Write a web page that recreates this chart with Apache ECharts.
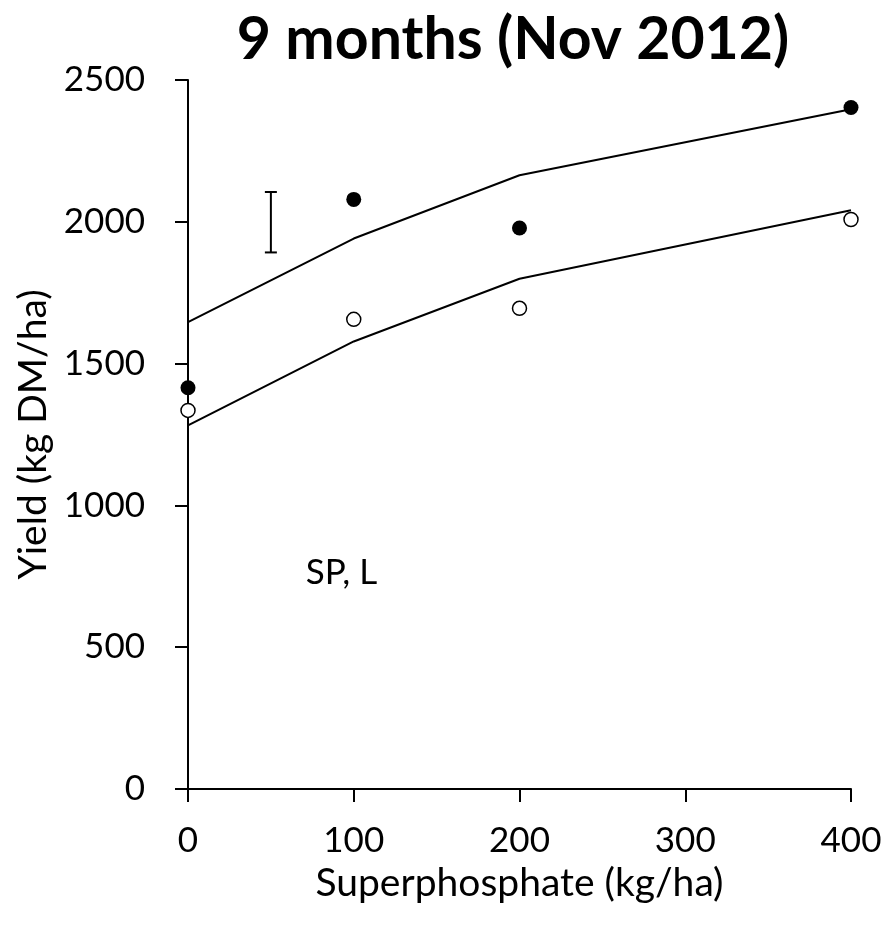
<!DOCTYPE html>
<html>
<head>
<meta charset="utf-8">
<script src="https://cdn.jsdelivr.net/npm/echarts@6/dist/echarts.min.js"></script>
<style>
  html, body { margin: 0; padding: 0; background: #fff; }
  #main { width: 887px; height: 925px; }
</style>
</head>
<body>
<div id="main"></div>
<script>
const rates = [0, 100, 200, 400]
const filledPts = [1415, 2079, 1978, 2403]
const openPts = [1335, 1656, 1695, 2008]
const upperFit = [1646, 1941, 2164, 2397]
const lowerFit = [1282, 1578, 1799, 2041]
const errBar = [50, 1892, 2105]
const note = [71, 763, 'SP, L']
const xTicks = [0, 100, 200, 300, 400]
const yTicks = [0, 500, 1000, 1500, 2000, 2500]

const font = 'Lato, "Open Sans", sans-serif'
const pairs = (xs, ys) => xs.map((x, i) => [x, ys[i]])

const chart = echarts.init(document.getElementById('main'))
const option = {
  animation: false,
  title: {
    text: '9 months (Nov 2012)',
    left: 508,
    textAlign: 'center',
    top: 5,
    textStyle: { fontFamily: font, fontWeight: 'bold', fontSize: 59, color: '#000' },
  },
  grid: { left: 188, right: 36, top: 80, bottom: 136, outerBoundsMode: 'none', containLabel: false },
  xAxis: {
    type: 'value',
    min: xTicks[0],
    max: xTicks[xTicks.length - 1],
    interval: 100,
    name: 'Superphosphate (kg/ha)',
    nameLocation: 'middle',
    nameGap: 75,
    nameTextStyle: { fontFamily: font, fontSize: 39, color: '#000' },
    axisLine: { onZero: false, lineStyle: { color: '#000', width: 2 } },
    axisTick: { length: 13, lineStyle: { color: '#000', width: 2 } },
    axisLabel: { fontFamily: font, fontSize: 35, color: '#000', margin: 34, formatter: v => String(v) },
    splitLine: { show: false },
  },
  yAxis: {
    type: 'value',
    min: yTicks[0],
    max: yTicks[yTicks.length - 1],
    interval: 500,
    name: 'Yield (kg DM/ha)',
    nameLocation: 'middle',
    nameGap: 133,
    nameTextStyle: { fontFamily: font, fontSize: 39, color: '#000' },
    axisLine: { onZero: false, lineStyle: { color: '#000', width: 2 } },
    axisTick: { length: 13, lineStyle: { color: '#000', width: 2 } },
    axisLabel: { fontFamily: font, fontSize: 35, color: '#000', margin: 43, formatter: v => String(v) },
    splitLine: { show: false },
  },
  series: [
    {
      type: 'line',
      data: pairs(rates, upperFit),
      symbol: 'none',
      lineStyle: { color: '#000', width: 2 },
      z: 2,
    },
    {
      type: 'line',
      data: pairs(rates, lowerFit),
      symbol: 'none',
      lineStyle: { color: '#000', width: 2 },
      z: 2,
    },
    {
      type: 'scatter',
      data: pairs(rates, filledPts),
      symbol: 'circle',
      symbolSize: 15,
      itemStyle: { color: '#000', opacity: 1 },
      z: 3,
    },
    {
      type: 'scatter',
      data: pairs(rates, openPts),
      symbol: 'circle',
      symbolSize: 14,
      itemStyle: { color: '#fff', borderColor: '#000', borderWidth: 1.5, opacity: 1 },
      z: 3,
    },
    {
      type: 'custom',
      data: [errBar],
      renderItem: (params, api) => {
        const top = api.coord([api.value(0), api.value(2)])
        const bot = api.coord([api.value(0), api.value(1)])
        const cap = 6
        const style = { stroke: '#000', lineWidth: 2 }
        return {
          type: 'group',
          children: [
            { type: 'line', shape: { x1: top[0], y1: top[1], x2: bot[0], y2: bot[1] }, style },
            { type: 'line', shape: { x1: top[0] - cap, y1: top[1], x2: top[0] + cap, y2: top[1] }, style },
            { type: 'line', shape: { x1: bot[0] - cap, y1: bot[1], x2: bot[0] + cap, y2: bot[1] }, style },
          ],
        }
      },
      z: 3,
    },
    {
      type: 'scatter',
      data: [[note[0], note[1]]],
      symbolSize: 0,
      itemStyle: { opacity: 1 },
      label: {
        show: true,
        position: 'right',
        distance: 0,
        formatter: note[2],
        fontFamily: font,
        fontSize: 35,
        color: '#000',
      },
      silent: true,
    },
  ],
}
chart.setOption(option)
</script>
</body>
</html>
